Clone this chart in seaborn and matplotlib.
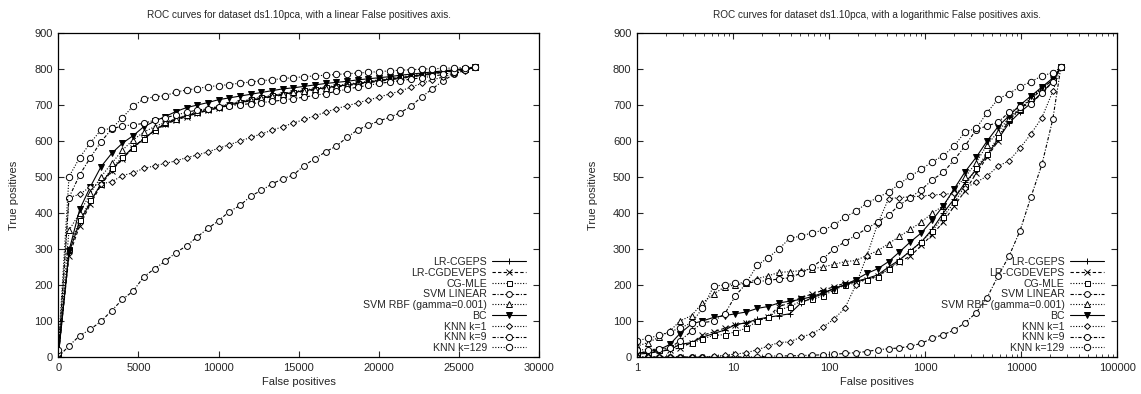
#!/usr/bin/env python3
"""ROC curves for dataset ds1.10pca, linear and logarithmic False positives axis."""
import matplotlib
matplotlib.use('Agg')
import pandas as pd
import matplotlib.pyplot as plt
import matplotlib.ticker as mticker
import seaborn as sns

methods = ['LR-CGEPS', 'LR-CGDEVEPS', 'CG-MLE', 'SVM LINEAR', 'SVM RBF (gamma=0.001)',
           'BC', 'KNN k=1', 'KNN k=9', 'KNN k=129']

# false positive sample points (linear panel)
fp_lin = [0, 667, 1333, 2000, 2667, 3333, 4000, 4667, 5333, 6000,
          6667, 7333, 8000, 8667, 9333, 10000, 10667, 11333, 12000, 12667,
          13333, 14000, 14667, 15333, 16000, 16667, 17333, 18000, 18667, 19333,
          20000, 20667, 21333, 22000, 22667, 23333, 24000, 24667, 25333, 26000]

lin_lr_cgeps = [5, 290, 375, 430, 482, 520, 552, 584, 605, 630,
                648, 660, 670, 678, 686, 693, 700, 707, 713, 719,
                725, 730, 735, 740, 744, 748, 752, 756, 760, 764,
                768, 772, 776, 780, 784, 788, 792, 796, 800, 805]
lin_lr_cgdeveps = [5, 280, 365, 425, 478, 518, 550, 582, 607, 628,
                   646, 658, 668, 677, 685, 692, 699, 706, 712, 718,
                   723, 728, 733, 738, 742, 746, 750, 754, 758, 762,
                   766, 770, 774, 778, 782, 786, 791, 795, 800, 805]
lin_cg_mle = [5, 300, 380, 435, 480, 525, 555, 580, 606, 632,
              650, 662, 672, 680, 688, 695, 702, 709, 716, 722,
              727, 732, 737, 742, 746, 750, 754, 758, 762, 766,
              770, 774, 778, 782, 786, 790, 794, 797, 801, 805]
lin_svm_linear = [0, 31, 59, 77, 99, 129, 160, 183, 223, 245,
                  266, 290, 309, 334, 357, 379, 404, 421, 447, 463,
                  481, 495, 506, 532, 551, 570, 586, 610, 631, 644,
                  656, 666, 679, 697, 723, 745, 768, 785, 797, 805]
lin_svm_rbf = [5, 352, 400, 455, 501, 538, 575, 603, 625, 640,
               652, 662, 672, 682, 690, 697, 703, 710, 715, 720,
               725, 730, 735, 740, 744, 748, 752, 756, 760, 764,
               768, 772, 776, 780, 784, 788, 792, 796, 800, 805]
lin_bc = [0, 295, 410, 473, 529, 566, 594, 615, 640, 655,
          668, 682, 693, 700, 707, 715, 720, 725, 730, 735,
          740, 745, 748, 752, 756, 760, 763, 766, 770, 773,
          776, 779, 783, 786, 789, 792, 795, 798, 801, 805]
lin_knn1 = [0, 443, 452, 473, 481, 487, 504, 512, 524, 531,
            538, 545, 554, 561, 570, 580, 590, 600, 610, 620,
            630, 640, 650, 660, 670, 680, 690, 698, 706, 714,
            722, 731, 739, 750, 760, 770, 778, 787, 795, 805]
lin_knn9 = [10, 443, 506, 554, 598, 634, 642, 645, 649, 658,
            665, 672, 680, 686, 690, 695, 698, 701, 704, 707,
            710, 714, 718, 722, 727, 732, 738, 744, 750, 755,
            760, 764, 768, 772, 776, 780, 785, 791, 798, 805]
lin_knn129 = [20, 501, 554, 595, 631, 635, 665, 697, 717, 723,
              726, 736, 742, 746, 751, 754, 757, 761, 764, 768,
              770, 774, 776, 779, 781, 783, 785, 787, 789, 791,
              793, 795, 797, 798, 800, 801, 802, 803, 804, 805]

# false positive sample points (log panel)
fp_log = [1, 1.3, 1.7, 2.2, 2.8, 3.7, 4.8, 6.3, 8.2, 10.6,
          13.8, 17.9, 23, 30, 39, 51, 67, 86, 112, 146,
          190, 247, 321, 417, 542, 705, 917, 1190, 1550, 2020,
          2620, 3410, 4430, 5760, 7490, 9740, 12700, 16500, 21400, 26000]

log_lr_cgeps = [8, 10, 15, 20, 35, 40, 55, 65, 75, 90,
                95, 105, 110, 115, 120, 150, 165, 175, 190, 200,
                210, 218, 228, 250, 270, 295, 320, 355, 400, 440,
                485, 520, 560, 605, 650, 680, 705, 735, 765, 805]
log_lr_cgdeveps = [10, 12, 18, 20, 25, 40, 60, 70, 80, 90,
                   95, 100, 110, 140, 150, 165, 175, 185, 195, 205,
                   210, 215, 225, 245, 265, 280, 310, 340, 375, 420,
                   462, 510, 555, 600, 660, 690, 715, 745, 770, 805]
log_cg_mle = [12, 15, 18, 28, 32, 38, 50, 60, 62, 70,
              80, 100, 110, 130, 140, 155, 160, 170, 185, 200,
              205, 215, 222, 245, 268, 295, 320, 350, 390, 430,
              475, 525, 565, 610, 660, 685, 720, 750, 770, 805]
log_svm_linear = [0, 0, 0, 0, 0, 0, 0, 0, 0, 0,
                  0, 0, 2, 3, 3, 4, 5, 6, 7, 10,
                  12, 15, 20, 23, 25, 30, 38, 52, 62, 75,
                  95, 123, 165, 225, 280, 350, 445, 535, 660, 805]
log_svm_rbf = [30, 40, 55, 72, 100, 115, 150, 175, 195, 200,
               205, 218, 225, 235, 237, 240, 245, 250, 257, 265,
               268, 282, 295, 315, 335, 355, 375, 400, 420, 465,
               500, 540, 590, 625, 665, 690, 720, 745, 770, 805]
log_bc = [10, 15, 20, 35, 65, 92, 100, 110, 115, 120,
          125, 135, 140, 150, 155, 160, 168, 178, 190, 200,
          215, 232, 245, 265, 292, 320, 345, 380, 420, 468,
          515, 555, 600, 640, 670, 700, 725, 750, 775, 805]
log_knn1 = [0, 0, 0, 0, 0, 0, 0, 2, 5, 8,
            12, 20, 30, 40, 42, 55, 65, 82, 105, 135,
            200, 280, 370, 440, 443, 445, 447, 450, 452, 455,
            470, 485, 503, 530, 545, 580, 620, 665, 738, 805]
log_knn9 = [20, 20, 22, 25, 45, 72, 95, 100, 120, 170,
            205, 210, 212, 217, 220, 233, 250, 272, 300, 320,
            338, 357, 375, 395, 422, 443, 465, 492, 513, 548,
            587, 632, 642, 652, 680, 694, 704, 733, 764, 805]
log_knn129 = [45, 52, 60, 70, 80, 95, 135, 197, 200, 205,
              207, 255, 275, 300, 330, 336, 345, 352, 366, 388,
              405, 427, 443, 458, 481, 503, 521, 543, 559, 587,
              626, 635, 679, 717, 732, 751, 765, 781, 790, 805]

lin_series = [lin_lr_cgeps, lin_lr_cgdeveps, lin_cg_mle, lin_svm_linear, lin_svm_rbf,
              lin_bc, lin_knn1, lin_knn9, lin_knn129]
log_series = [log_lr_cgeps, log_lr_cgdeveps, log_cg_mle, log_svm_linear, log_svm_rbf,
              log_bc, log_knn1, log_knn9, log_knn129]

dotted = (0, (1, 1.5))
dashed = (0, (3, 2))
dashdot = (0, (3, 1.5, 1, 1.5))
styles = {
    'LR-CGEPS': dict(marker='+', linestyle='-', markersize=5, markerfacecolor='black'),
    'LR-CGDEVEPS': dict(marker='x', linestyle=dashed, markersize=3.8, markerfacecolor='black'),
    'CG-MLE': dict(marker='s', linestyle=dotted, markersize=3.6, markerfacecolor='white'),
    'SVM LINEAR': dict(marker='o', linestyle=dashdot, markersize=4.2, markerfacecolor='white'),
    'SVM RBF (gamma=0.001)': dict(marker='^', linestyle=dotted, markersize=4, markerfacecolor='white'),
    'BC': dict(marker='v', linestyle='-', markersize=4, markerfacecolor='black'),
    'KNN k=1': dict(marker='D', linestyle=dotted, markersize=3, markerfacecolor='white'),
    'KNN k=9': dict(marker='o', linestyle=dashdot, markersize=4.4, markerfacecolor='white'),
    'KNN k=129': dict(marker='o', linestyle=dotted, markersize=4.6, markerfacecolor='white'),
}


def long_frame(fp, series):
    rows = []
    for name, tp in zip(methods, series):
        rows.append(pd.DataFrame({'method': name, 'fp': fp, 'tp': tp}))
    return pd.concat(rows, ignore_index=True)


def draw_panel(ax, df, title):
    for name in methods:
        sub = df[df['method'] == name]
        sns.lineplot(data=sub, x='fp', y='tp', ax=ax, color='black', linewidth=0.8,
                     markeredgecolor='black', markeredgewidth=0.7, errorbar=None,
                     label=name, **styles[name])
    ax.set_ylim(0, 900)
    ax.set_yticks(range(0, 901, 100))
    ax.set_title(title, fontsize=7.2, pad=11)
    ax.set_xlabel('False positives', fontsize=8, labelpad=3)
    ax.set_ylabel('True positives', fontsize=8, labelpad=11)
    ax.tick_params(which='both', direction='in', top=True, right=True, labelsize=8)
    ax.tick_params(which='major', length=4, width=0.8, pad=4)
    ax.tick_params(which='minor', length=2, width=0.6)
    for sp in ax.spines.values():
        sp.set_linewidth(0.9)
        sp.set_color('black')
    ax.legend(loc='lower right', bbox_to_anchor=(0.972, 0.012), frameon=False,
              markerfirst=False, fontsize=7.6, handlelength=3.2, handletextpad=0.5,
              labelspacing=0.07, borderpad=0, borderaxespad=0)


def main():
    sns.set_theme(style='ticks')
    plt.rcParams['font.family'] = ['Liberation Sans Narrow', 'Liberation Sans', 'DejaVu Sans']

    fig = plt.figure(figsize=(11.41, 3.94), dpi=100)
    ax1 = fig.add_axes([0.0511, 0.094, 0.4216, 0.822])
    ax2 = fig.add_axes([0.5583, 0.094, 0.4207, 0.822])

    draw_panel(ax1, long_frame(fp_lin, lin_series),
               'ROC curves for dataset ds1.10pca, with a linear False positives axis.')
    ax1.set_xlim(0, 30000)
    ax1.set_xticks(range(0, 30001, 5000))

    draw_panel(ax2, long_frame(fp_log, log_series),
               'ROC curves for dataset ds1.10pca, with a logarithmic False positives axis.')
    ax2.set_xscale('log')
    ax2.set_xlim(1, 100000)
    ax2.xaxis.set_major_locator(mticker.LogLocator(base=10, numticks=10))
    ax2.xaxis.set_minor_locator(mticker.LogLocator(base=10, subs=range(2, 10), numticks=50))
    ax2.xaxis.set_major_formatter(mticker.FuncFormatter(lambda v, p: '%g' % v))
    ax2.xaxis.set_minor_formatter(mticker.NullFormatter())

    fig.savefig('out.png', dpi=100)
    plt.close(fig)


if __name__ == '__main__':
    main()
